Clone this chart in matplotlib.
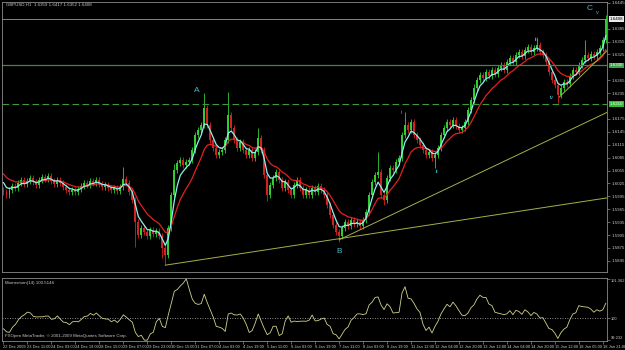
import numpy as np
import pandas as pd
import matplotlib
matplotlib.use("Agg")
import matplotlib.pyplot as plt

# GBPUSD H1, 22 Dec 2009 - 18 Jan 2010, every second hour
prior_closes = [1.6065, 1.6075, 1.6090, 1.6070, 1.6050, 1.6035, 1.6025]
first_open = 1.6010
closes = [
    1.6005, 1.5998, 1.6010, 1.6019, 1.6015, 1.6026, 1.6033, 1.6024, 1.6031, 1.6038,
    1.6028, 1.6021, 1.6033, 1.6040, 1.6035, 1.6042, 1.6031, 1.6024, 1.6033, 1.6026,
    1.6017, 1.6010, 1.6005, 1.6010, 1.6005, 1.6012, 1.6019, 1.6026, 1.6021, 1.6031,
    1.6026, 1.6033, 1.6024, 1.6017, 1.6021, 1.6015, 1.6010, 1.6015, 1.6008, 1.6017,
    1.6035, 1.6026, 1.6005, 1.5987, 1.5935, 1.5905, 1.5921, 1.5912, 1.5903, 1.5917,
    1.5908, 1.5915, 1.5903, 1.5875, 1.5859, 1.5921, 1.5998, 1.6056, 1.6073, 1.6080,
    1.6068, 1.6075, 1.6080, 1.6103, 1.6138, 1.6149, 1.6161, 1.6201, 1.6161, 1.6126,
    1.6108, 1.6091, 1.6098, 1.6103, 1.6126, 1.6184, 1.6154, 1.6126, 1.6108, 1.6121,
    1.6103, 1.6091, 1.6103, 1.6084, 1.6098, 1.6131, 1.6103, 1.6045, 1.5998, 1.6021,
    1.6038, 1.6052, 1.6033, 1.6015, 1.6028, 1.6010, 1.5998, 1.6021, 1.6033, 1.6015,
    1.5998, 1.6010, 1.5998, 1.6015, 1.6005, 1.6019, 1.6010, 1.5998, 1.5975, 1.5952,
    1.5928, 1.5912, 1.5903, 1.5921, 1.5935, 1.5926, 1.5940, 1.5931, 1.5935, 1.5926,
    1.5940, 1.5959, 1.5998, 1.6028, 1.6045, 1.6052, 1.5998, 1.5987, 1.6038, 1.6061,
    1.6056, 1.6075, 1.6084, 1.6138, 1.6161, 1.6149, 1.6168, 1.6138, 1.6126, 1.6115,
    1.6103, 1.6091, 1.6098, 1.6084, 1.6091, 1.6108, 1.6138, 1.6154, 1.6168, 1.6161,
    1.6173, 1.6159, 1.6149, 1.6154, 1.6168, 1.6196, 1.6219, 1.6247, 1.6266, 1.6277,
    1.6270, 1.6284, 1.6275, 1.6289, 1.6280, 1.6294, 1.6301, 1.6289, 1.6308, 1.6317,
    1.6308, 1.6324, 1.6331, 1.6322, 1.6336, 1.6343, 1.6331, 1.6340, 1.6347, 1.6331,
    1.6324, 1.6308, 1.6284, 1.6266, 1.6254, 1.6231, 1.6247, 1.6261, 1.6256, 1.6275,
    1.6289, 1.6284, 1.6301, 1.6312, 1.6324, 1.6317, 1.6326, 1.6322, 1.6331, 1.6340,
    1.6359, 1.6408,
]
spike_highs = {40: 1.6063, 57: 1.6070, 67: 1.6235, 75: 1.6238, 85: 1.6154,
               125: 1.6098, 134: 1.6191, 157: 1.6256, 178: 1.6363, 194: 1.6359,
               201: 1.6417}
spike_lows = {44: 1.5877, 53: 1.5852, 54: 1.5835, 88: 1.5985, 112: 1.5889,
              127: 1.5975, 144: 1.6061, 185: 1.6212}

tick_labels = ["22 Dec 2009", "23 Dec 11:00", "24 Dec 03:00", "24 Dec 19:00",
               "28 Dec 15:00", "29 Dec 07:00", "29 Dec 23:00", "30 Dec 15:00",
               "31 Dec 07:00", "4 Jan 03:00", "4 Jan 19:00", "5 Jan 11:00",
               "6 Jan 03:00", "6 Jan 19:00", "7 Jan 11:00", "8 Jan 03:00",
               "8 Jan 19:00", "11 Jan 12:00", "12 Jan 04:00", "12 Jan 20:00",
               "13 Jan 12:00", "14 Jan 04:00", "14 Jan 20:00", "15 Jan 12:00",
               "18 Jan 05:00", "18 Jan 21:00"]
tick_step = 8

level_solid = 1.6300
level_dashed = 1.6210
trend_lines = [((54, 1.5835), (201, 1.5991)),
               ((112, 1.5894), (201, 1.6189)),
               ((185.5, 1.6226), (201, 1.6331))]
wave_big = [("A", 64.5, 1.6242), ("B", 112, 1.5866), ("C", 195.5, 1.6433)]
wave_small = [("i", 132.8, 1.6189), ("ii", 144.5, 1.6052), ("iii", 177.8, 1.6359),
              ("iv", 182.8, 1.6226), ("v", 198.2, 1.6422)]

plt.rcParams["font.family"] = ["Liberation Sans", "DejaVu Sans"]
BG = "black"
AXC = "#8a8a8a"
TXT = "#c8c8c8"
BULL = "#2fcf2f"
BEAR = "#d42222"
WICK = 0.0007
FS = 3.2

c = np.array(closes)
o = np.concatenate([[first_open], c[:-1]])
hi = np.maximum(o, c) + WICK
lo = np.minimum(o, c) - WICK
for k, v in spike_highs.items():
    hi[k] = v
for k, v in spike_lows.items():
    lo[k] = v
idx = np.arange(len(c))

full = pd.Series(prior_closes + closes)
ma_fast = full.ewm(span=4, adjust=False).mean().values[len(prior_closes):]
ma_slow = full.ewm(span=11, adjust=False).mean().values[len(prior_closes):]
mom = (full / full.shift(7) * 100).values[len(prior_closes):]

fig = plt.figure(figsize=(6.25, 3.5), dpi=100, facecolor=BG)
ax = fig.add_axes([2 / 625, 1 - 272 / 350, 605 / 625, 270 / 350], facecolor=BG)
ax2 = fig.add_axes([2 / 625, 1 - 341 / 350, 605 / 625, 63 / 350], facecolor=BG)

up = c >= o
cols = np.where(up, BULL, BEAR)
ax.vlines(idx, lo, hi, colors=cols, lw=0.6)
ax.bar(idx, np.maximum(np.abs(c - o), 0.00005), bottom=np.minimum(o, c),
       width=0.66, color=cols, linewidth=0)
ax.plot(idx, ma_slow, color="#e52020", lw=0.9)
ax.plot(idx, ma_fast, color="#8ef0f0", lw=0.9)

xmin, xmax = -0.5, 201.4
ax.axhline(c[-1], color="#9a9a9a", lw=0.6)
ax.axhline(level_solid, color="#4f7f4f", lw=0.9)
ax.axhline(level_dashed, color="#3f9a3f", lw=0.8, ls=(0, (6, 3)))
for (x0, y0), (x1, y1) in trend_lines:
    slope = (y1 - y0) / (x1 - x0)
    ax.plot([x0, xmax], [y0, y0 + slope * (xmax - x0)], color="#a8ae4a", lw=0.7)

for t, x, y in wave_big:
    ax.text(x, y, t, color="#45b8c8", fontsize=6, ha="center", va="center")
for t, x, y in wave_small:
    ax.text(x, y, t, color="#45b8c8", fontsize=4, ha="center", va="center")

ax.set_xlim(xmin, xmax)
ax.set_ylim(1.58191, 1.64471)
ax.set_xticks([])
ax.yaxis.tick_right()
boxes = [(c[-1], "#e8e8e8", "black"), (level_solid, "#3fa34f", "white"),
         (level_dashed, "#2fbf2f", "white")]
yt = np.round(np.arange(1.5845, 1.6446, 0.003), 4)
yt = [v for v in yt if all(abs(v - b[0]) > 0.0012 for b in boxes)]
ax.set_yticks(yt)
ax.set_yticklabels([f"{v:.4f}" for v in yt])
ax.tick_params(axis="y", colors=AXC, labelcolor=TXT, labelsize=FS, length=2, width=0.5, pad=1)

for y, fc, tc in boxes:
    ax.text(1.0045, y, f"{y:.4f}", transform=ax.get_yaxis_transform(), fontsize=FS,
            color=tc, va="center", ha="left",
            bbox=dict(facecolor=fc, edgecolor="none", pad=0.5))

ax2.plot(idx, mom, color="#d2d28a", lw=0.6)
ax2.axhline(100, color="#bdbdbd", lw=0.6, ls=(0, (1, 2)))
mmin, mmax = np.nanmin(mom), np.nanmax(mom)
ax2.set_xlim(xmin, xmax)
ax2.set_ylim(mmin - 0.03, mmax + 0.03)
ax2.yaxis.tick_right()
ax2.set_yticks([mmin, 100, mmax])
ax2.set_yticklabels([f"{mmin:.3f}", "100", f"{mmax:.3f}"])
ax2.tick_params(axis="y", colors=AXC, labelcolor=TXT, labelsize=2.9, length=2, width=0.5, pad=1)
mlabels = ax2.get_yticklabels()
mlabels[0].set_va("bottom")
mlabels[2].set_va("top")
pos = np.arange(len(tick_labels)) * tick_step
ax2.set_xticks(pos)
ax2.set_xticklabels(tick_labels, ha="left")
ax2.tick_params(axis="x", colors=AXC, labelcolor=TXT, labelsize=2.9, length=2, width=0.5, pad=1)

for a in (ax, ax2):
    for s in a.spines.values():
        s.set_color(AXC)
        s.set_linewidth(0.6)

ax2.text(0.005, 0.96, f"Momentum(14) {mom[-1]:.4f}", transform=ax2.transAxes,
         color=TXT, fontsize=FS, va="top")
ax2.text(0.005, 0.04, "FXOpen MetaTrader, \u00a9 2001-2009 MetaQuotes Software Corp.",
         transform=ax2.transAxes, color=TXT, fontsize=FS, va="bottom")
fig.text(6 / 625, 1 - 5 / 350,
         f"GBPUSD,H1  {o[-1]:.4f} {hi[-1]:.4f} {lo[-1]:.4f} {c[-1]:.4f}",
         color=TXT, fontsize=FS, va="center")

fig.savefig("out.png", dpi=100, facecolor=BG)
